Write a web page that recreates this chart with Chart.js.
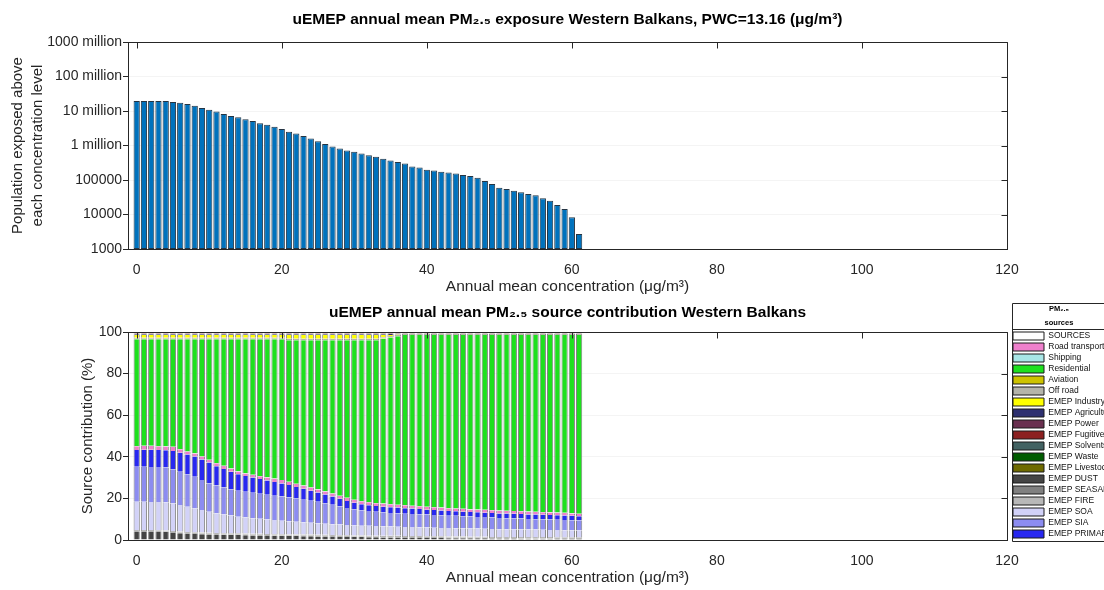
<!DOCTYPE html>
<html>
<head>
<meta charset="utf-8">
<script src="https://cdn.jsdelivr.net/npm/chart.js@4.4.1/dist/chart.umd.min.js"></script>
<style>
  html, body { margin: 0; padding: 0; background: #fff; overflow: hidden; }
  #wrap { position: relative; width: 1104px; height: 590px; overflow: hidden; }
  #topBox { position: absolute; left: 0; top: 0; width: 1104px; height: 296px; }
  #bottomBox { position: absolute; left: 0; top: 296px; width: 1104px; height: 294px; }
</style>
</head>
<body>
<div id="wrap">
  <div id="topBox"><canvas id="exposure"></canvas></div>
  <div id="bottomBox"><canvas id="contribution"></canvas></div>
</div>
<script>
// concentration bins (ug/m3), one bar per bin
const concentration = [
  0, 1, 2, 3, 4, 5, 6, 7, 8, 9,
  10, 11, 12, 13, 14, 15, 16, 17, 18, 19,
  20, 21, 22, 23, 24, 25, 26, 27, 28, 29,
  30, 31, 32, 33, 34, 35, 36, 37, 38, 39,
  40, 41, 42, 43, 44, 45, 46, 47, 48, 49,
  50, 51, 52, 53, 54, 55, 56, 57, 58, 59,
  60, 61
];

// population exposed above each concentration level
const populationAbove = [
  19500000, 19500000, 19500000, 19500000, 19400000, 18200000, 17400000, 15900000, 14100000, 12300000,
  10900000, 9600000, 8200000, 7200000, 6600000, 5800000, 5100000, 4400000, 4000000, 3500000,
  3000000, 2500000, 2240000, 1900000, 1600000, 1320000, 1100000, 930000, 815000, 720000,
  660000, 590000, 525000, 475000, 415000, 365000, 330000, 300000, 245000, 230000,
  198000, 187000, 174000, 166000, 155000, 139000, 131000, 117000, 94000, 76000,
  60000, 55000, 49000, 44000, 39000, 36000, 29500, 25000, 19000, 14400,
  8300, 2700
];

const xTicks = [0, 20, 40, 60, 80, 100, 120];
const popTicks = [1000, 10000, 100000, 1000000, 10000000, 100000000, 1000000000];
const popTickLabels = ['1000', '10000', '100000', '1 million', '10 million', '100 million', '1000 million'];
const shareTicks = [0, 20, 40, 60, 80, 100];

// source contributions (%) per bin
const emepDust = [
  4.0, 4.0, 4.0, 3.9, 3.8, 3.5, 3.3, 3.1, 2.9, 2.8,
  2.7, 2.6, 2.5, 2.4, 2.4, 2.3, 2.2, 2.2, 2.1, 2.0,
  2.0, 1.9, 1.9, 1.8, 1.8, 1.7, 1.7, 1.6, 1.5, 1.5,
  1.4, 1.4, 1.3, 1.3, 1.2, 1.2, 1.2, 1.1, 1.1, 1.1,
  1.0, 1.0, 1.0, 0.9, 0.9, 0.9, 0.8, 0.8, 0.8, 0.7,
  0.7, 0.7, 0.7, 0.6, 0.6, 0.6, 0.6, 0.6, 0.5, 0.5,
  0.5, 0.5
];
const emepSeasalt = [
  0.3, 0.3, 0.3, 0.3, 0.3, 0.3, 0.3, 0.3, 0.3, 0.3,
  0.3, 0.3, 0.3, 0.3, 0.3, 0.3, 0.3, 0.3, 0.3, 0.3,
  0.3, 0.3, 0.3, 0.3, 0.3, 0.3, 0.3, 0.3, 0.3, 0.3,
  0.3, 0.3, 0.3, 0.3, 0.3, 0.3, 0.3, 0.3, 0.3, 0.3,
  0.3, 0.3, 0.3, 0.3, 0.3, 0.3, 0.3, 0.3, 0.3, 0.3,
  0.3, 0.3, 0.3, 0.3, 0.3, 0.3, 0.3, 0.3, 0.3, 0.3,
  0.3, 0.3
];
const emepFire = [
  0.5, 0.5, 0.5, 0.5, 0.5, 0.5, 0.5, 0.5, 0.5, 0.5,
  0.5, 0.5, 0.5, 0.5, 0.5, 0.5, 0.5, 0.5, 0.5, 0.5,
  0.5, 0.5, 0.5, 0.5, 0.5, 0.5, 0.5, 0.5, 0.5, 0.5,
  0.5, 0.5, 0.5, 0.5, 0.5, 0.5, 0.5, 0.5, 0.5, 0.5,
  0.5, 0.5, 0.5, 0.5, 0.5, 0.5, 0.5, 0.5, 0.5, 0.5,
  0.5, 0.5, 0.5, 0.5, 0.5, 0.5, 0.5, 0.5, 0.5, 0.5,
  0.5, 0.5
];
const emepSoa = [
  13.6, 13.6, 13.5, 13.6, 13.5, 13.2, 12.7, 12.1, 11.5, 10.8,
  10.1, 9.5, 9.0, 8.6, 8.0, 7.8, 7.5, 7.2, 7.0, 6.8,
  6.5, 6.3, 6.1, 5.9, 5.7, 5.5, 5.3, 5.2, 5.1, 4.9,
  4.8, 4.7, 4.7, 4.6, 4.6, 4.5, 4.4, 4.4, 4.3, 4.2,
  4.2, 4.1, 4.0, 4.1, 4.0, 3.9, 3.9, 3.9, 3.8, 3.8,
  3.7, 3.7, 3.6, 3.7, 3.6, 3.6, 3.5, 3.4, 3.5, 3.4,
  3.4, 3.3
];
const emepSia = [
  16.8, 16.8, 16.8, 16.8, 16.8, 16.5, 16.0, 15.6, 15.2, 14.4,
  13.6, 13.3, 12.9, 12.6, 12.5, 12.3, 12.2, 12.0, 11.9, 11.7,
  11.6, 11.4, 11.1, 10.9, 10.6, 10.4, 9.9, 9.4, 8.8, 8.2,
  7.8, 7.4, 7.1, 6.9, 6.7, 6.5, 6.4, 6.3, 6.3, 6.2,
  6.2, 6.1, 6.1, 5.9, 5.9, 5.8, 5.8, 5.6, 5.6, 5.5,
  5.4, 5.3, 5.3, 5.2, 5.1, 5.0, 5.0, 5.0, 4.9, 4.9,
  4.8, 4.8
];
const emepPrimary = [
  8.1, 8.2, 8.3, 8.2, 8.3, 8.8, 9.2, 9.5, 9.7, 9.9,
  10.0, 9.3, 8.9, 8.4, 7.9, 7.6, 7.3, 7.1, 6.8, 6.6,
  6.3, 6.0, 5.6, 5.2, 4.8, 4.4, 4.2, 3.9, 3.6, 3.4,
  3.1, 2.9, 2.8, 2.7, 2.7, 2.8, 2.8, 2.7, 2.6, 2.6,
  2.4, 2.4, 2.3, 2.3, 2.2, 2.2, 2.2, 2.2, 2.1, 2.2,
  2.2, 2.2, 2.2, 2.2, 2.2, 2.2, 2.2, 2.2, 2.2, 2.2,
  2.1, 2.0
];
const sourcesTotal = [
  0, 0, 0, 0, 0, 0, 0, 0, 0, 0,
  0, 0, 0, 0, 0, 0, 0, 0, 0, 0,
  0, 0, 0, 0, 0, 0, 0, 0, 0, 0,
  0, 0, 0, 0, 0, 0, 0, 0, 0, 0,
  0, 0, 0, 0, 0, 0, 0, 0, 0, 0,
  0, 0, 0, 0, 0, 0, 0, 0, 0, 0,
  0, 0
];
const roadTransport = [
  1.8, 1.8, 1.8, 1.8, 1.8, 1.9, 1.6, 1.4, 1.5, 1.4,
  1.3, 1.4, 1.5, 1.5, 1.3, 1.2, 1.3, 1.4, 1.5, 1.6,
  1.6, 1.5, 1.5, 1.5, 1.5, 1.5, 1.4, 1.4, 1.4, 1.4,
  1.4, 1.4, 1.4, 1.4, 1.4, 1.4, 1.3, 1.4, 1.3, 1.3,
  1.3, 1.3, 1.3, 1.3, 1.3, 1.3, 1.2, 1.3, 1.3, 1.3,
  1.3, 1.3, 1.3, 1.3, 1.3, 1.3, 1.2, 1.2, 1.2, 1.2,
  1.2, 1.1
];
const shipping = [
  0.1, 0.1, 0.1, 0.1, 0.1, 0.1, 0.1, 0.1, 0.1, 0.1,
  0.1, 0.1, 0.1, 0.1, 0.1, 0.1, 0.1, 0.1, 0.1, 0.1,
  0.1, 0.1, 0.1, 0.1, 0.1, 0.1, 0.1, 0.1, 0.1, 0.1,
  0.1, 0.1, 0.1, 0.1, 0.1, 0.1, 0.1, 0.1, 0.1, 0.1,
  0.1, 0.1, 0.1, 0.1, 0.1, 0.1, 0.1, 0.1, 0.1, 0.1,
  0.1, 0.1, 0.1, 0.1, 0.1, 0.1, 0.1, 0.1, 0.1, 0.1,
  0.1, 0.1
];
const residential = [
  51.3, 51.2, 51.2, 51.3, 51.4, 51.7, 52.8, 53.9, 54.8, 56.3,
  57.9, 59.5, 60.8, 62.1, 63.5, 64.4, 65.1, 65.7, 66.3, 66.9,
  67.6, 68.0, 68.9, 69.8, 70.7, 71.6, 72.6, 73.6, 74.7, 75.7,
  76.6, 77.3, 77.8, 78.2, 79.3, 80.1, 80.9, 81.7, 82.0, 82.2,
  82.5, 82.7, 82.9, 83.1, 83.3, 83.5, 83.7, 83.8, 84.0, 84.1,
  84.3, 84.4, 84.5, 84.6, 84.8, 84.9, 85.1, 85.2, 85.3, 85.4,
  85.6, 85.9
];
const aviation = [
  0.2, 0.2, 0.2, 0.2, 0.2, 0.2, 0.2, 0.2, 0.2, 0.2,
  0.2, 0.2, 0.2, 0.2, 0.2, 0.2, 0.2, 0.2, 0.2, 0.2,
  0.2, 0.2, 0.2, 0.2, 0.2, 0.2, 0.2, 0.2, 0.2, 0.2,
  0.2, 0.2, 0.2, 0.2, 0.2, 0.2, 0.2, 0.1, 0.1, 0.1,
  0.1, 0.1, 0.1, 0.1, 0.1, 0.1, 0.1, 0.1, 0.1, 0.1,
  0.1, 0.1, 0.1, 0.1, 0.1, 0.1, 0.1, 0.1, 0.1, 0.1,
  0.1, 0.1
];
const offRoad = [
  0.5, 0.5, 0.5, 0.5, 0.5, 0.5, 0.5, 0.5, 0.5, 0.5,
  0.5, 0.5, 0.5, 0.5, 0.5, 0.5, 0.5, 0.5, 0.5, 0.5,
  0.5, 0.5, 0.5, 0.5, 0.5, 0.5, 0.5, 0.5, 0.5, 0.5,
  0.5, 0.5, 0.5, 0.5, 0.5, 0.5, 0.5, 0.4, 0.4, 0.4,
  0.4, 0.4, 0.4, 0.4, 0.4, 0.4, 0.4, 0.4, 0.4, 0.4,
  0.4, 0.4, 0.4, 0.4, 0.4, 0.4, 0.4, 0.4, 0.4, 0.4,
  0.4, 0.4
];
const emepIndustry = [
  1.3, 1.3, 1.3, 1.3, 1.3, 1.3, 1.3, 1.3, 1.3, 1.3,
  1.3, 1.3, 1.3, 1.3, 1.3, 1.3, 1.3, 1.3, 1.3, 1.3,
  1.3, 1.8, 1.8, 1.8, 1.8, 1.8, 1.8, 1.8, 1.8, 1.8,
  1.8, 1.8, 1.8, 1.8, 1.0, 0.5, 0.2, 0.1, 0.1, 0.1,
  0.1, 0.1, 0.1, 0.1, 0.1, 0.1, 0.1, 0.1, 0.1, 0.1,
  0.1, 0.1, 0.1, 0.1, 0.1, 0.1, 0.1, 0.1, 0.1, 0.1,
  0.1, 0.1
];
const emepAgriculture = [
  0.4, 0.4, 0.4, 0.4, 0.4, 0.4, 0.4, 0.4, 0.4, 0.4,
  0.4, 0.4, 0.4, 0.4, 0.4, 0.4, 0.4, 0.4, 0.4, 0.4,
  0.4, 0.4, 0.4, 0.4, 0.4, 0.4, 0.4, 0.4, 0.4, 0.4,
  0.4, 0.4, 0.4, 0.4, 0.4, 0.4, 0.3, 0.2, 0.2, 0.2,
  0.2, 0.2, 0.2, 0.2, 0.2, 0.2, 0.2, 0.2, 0.2, 0.2,
  0.2, 0.2, 0.2, 0.2, 0.2, 0.2, 0.2, 0.2, 0.2, 0.2,
  0.2, 0.2
];
const emepPower = [
  0.3, 0.3, 0.3, 0.3, 0.3, 0.3, 0.3, 0.3, 0.3, 0.3,
  0.3, 0.3, 0.3, 0.3, 0.3, 0.3, 0.3, 0.3, 0.3, 0.3,
  0.3, 0.3, 0.3, 0.3, 0.3, 0.3, 0.3, 0.3, 0.3, 0.3,
  0.3, 0.3, 0.3, 0.3, 0.3, 0.3, 0.3, 0.2, 0.2, 0.2,
  0.2, 0.2, 0.2, 0.2, 0.2, 0.2, 0.2, 0.2, 0.2, 0.2,
  0.2, 0.2, 0.2, 0.2, 0.2, 0.2, 0.2, 0.2, 0.2, 0.2,
  0.2, 0.2
];
const emepFugitive = [
  0.2, 0.2, 0.2, 0.2, 0.2, 0.2, 0.2, 0.2, 0.2, 0.2,
  0.2, 0.2, 0.2, 0.2, 0.2, 0.2, 0.2, 0.2, 0.2, 0.2,
  0.2, 0.2, 0.2, 0.2, 0.2, 0.2, 0.2, 0.2, 0.2, 0.2,
  0.2, 0.2, 0.2, 0.2, 0.2, 0.2, 0.2, 0.1, 0.1, 0.1,
  0.1, 0.1, 0.1, 0.1, 0.1, 0.1, 0.1, 0.1, 0.1, 0.1,
  0.1, 0.1, 0.1, 0.1, 0.1, 0.1, 0.1, 0.1, 0.1, 0.1,
  0.1, 0.1
];
const emepSolvents = [
  0.2, 0.2, 0.2, 0.2, 0.2, 0.2, 0.2, 0.2, 0.2, 0.2,
  0.2, 0.2, 0.2, 0.2, 0.2, 0.2, 0.2, 0.2, 0.2, 0.2,
  0.2, 0.2, 0.2, 0.2, 0.2, 0.2, 0.2, 0.2, 0.2, 0.2,
  0.2, 0.2, 0.2, 0.2, 0.2, 0.2, 0.1, 0.1, 0.1, 0.1,
  0.1, 0.1, 0.1, 0.1, 0.1, 0.1, 0.1, 0.1, 0.1, 0.1,
  0.1, 0.1, 0.1, 0.1, 0.1, 0.1, 0.1, 0.1, 0.1, 0.1,
  0.1, 0.1
];
const emepWaste = [
  0.1, 0.1, 0.1, 0.1, 0.1, 0.1, 0.1, 0.1, 0.1, 0.1,
  0.1, 0.1, 0.1, 0.1, 0.1, 0.1, 0.1, 0.1, 0.1, 0.1,
  0.1, 0.1, 0.1, 0.1, 0.1, 0.1, 0.1, 0.1, 0.1, 0.1,
  0.1, 0.1, 0.1, 0.1, 0.1, 0.1, 0.1, 0.1, 0.1, 0.1,
  0.1, 0.1, 0.1, 0.1, 0.1, 0.1, 0.1, 0.1, 0.1, 0.1,
  0.1, 0.1, 0.1, 0.1, 0.1, 0.1, 0.1, 0.1, 0.1, 0.1,
  0.1, 0.1
];
const emepLivestock = [
  0.3, 0.3, 0.3, 0.3, 0.3, 0.3, 0.3, 0.3, 0.3, 0.3,
  0.3, 0.3, 0.3, 0.3, 0.3, 0.3, 0.3, 0.3, 0.3, 0.3,
  0.3, 0.3, 0.3, 0.3, 0.3, 0.3, 0.3, 0.3, 0.3, 0.3,
  0.3, 0.3, 0.3, 0.3, 0.3, 0.2, 0.2, 0.2, 0.2, 0.2,
  0.2, 0.2, 0.2, 0.2, 0.2, 0.2, 0.2, 0.2, 0.2, 0.2,
  0.2, 0.2, 0.2, 0.2, 0.2, 0.2, 0.2, 0.2, 0.2, 0.2,
  0.2, 0.2
];

// legend order (top to bottom) and stacking order (bottom to top)
const legendOrder = ['SOURCES', 'Road transport', 'Shipping', 'Residential', 'Aviation', 'Off road',
  'EMEP Industry', 'EMEP Agriculture', 'EMEP Power', 'EMEP Fugitive', 'EMEP Solvents', 'EMEP Waste',
  'EMEP Livestock', 'EMEP DUST', 'EMEP SEASALT', 'EMEP FIRE', 'EMEP SOA', 'EMEP SIA', 'EMEP PRIMARY'];

const stackSeries = [
  ['EMEP DUST', emepDust], ['EMEP SEASALT', emepSeasalt], ['EMEP FIRE', emepFire],
  ['EMEP SOA', emepSoa], ['EMEP SIA', emepSia], ['EMEP PRIMARY', emepPrimary],
  ['SOURCES', sourcesTotal], ['Road transport', roadTransport], ['Shipping', shipping],
  ['Residential', residential], ['Aviation', aviation], ['Off road', offRoad],
  ['EMEP Industry', emepIndustry], ['EMEP Agriculture', emepAgriculture], ['EMEP Power', emepPower],
  ['EMEP Fugitive', emepFugitive], ['EMEP Solvents', emepSolvents], ['EMEP Waste', emepWaste],
  ['EMEP Livestock', emepLivestock]
];

const sourceColors = {
  'SOURCES': '#ffffff',
  'Road transport': '#ee80cc',
  'Shipping': '#a8e6e6',
  'Residential': '#1ee01e',
  'Aviation': '#cdc300',
  'Off road': '#b4b4aa',
  'EMEP Industry': '#ffff00',
  'EMEP Agriculture': '#2e3070',
  'EMEP Power': '#6a3050',
  'EMEP Fugitive': '#8c2020',
  'EMEP Solvents': '#426262',
  'EMEP Waste': '#005c00',
  'EMEP Livestock': '#6e6a00',
  'EMEP DUST': '#444444',
  'EMEP SEASALT': '#808080',
  'EMEP FIRE': '#b8b8b8',
  'EMEP SOA': '#d2d2f8',
  'EMEP SIA': '#8c8cf0',
  'EMEP PRIMARY': '#2828f0'
};

Chart.defaults.font.family = "'Liberation Sans', Arial, Helvetica, sans-serif";
Chart.defaults.color = '#262626';

const axisColor = '#262626';

// box around the axes with inward ticks on top and right, like the original
const framePlugin = {
  id: 'frame',
  afterDatasetsDraw(chart) {
    const { ctx, chartArea: a, scales } = chart;
    const l = Math.round(a.left) + 0.5, r = Math.round(a.right) + 0.5;
    const t = Math.round(a.top) + 0.5, b = Math.round(a.bottom) + 0.5;
    ctx.save();
    ctx.strokeStyle = axisColor;
    ctx.lineWidth = 1;
    ctx.beginPath();
    ctx.rect(l, t, r - l, b - t);
    scales.x.ticks.forEach(tk => {
      const px = Math.round(scales.x.getPixelForValue(tk.value)) + 0.5;
      ctx.moveTo(px, t); ctx.lineTo(px, t + 6);
    });
    scales.y.ticks.forEach(tk => {
      const py = Math.round(scales.y.getPixelForValue(tk.value)) + 0.5;
      ctx.moveTo(r, py); ctx.lineTo(r - 6, py);
    });
    ctx.stroke();
    ctx.restore();
  }
};

// bordered legend box with a rule under its title
const legendBoxPlugin = {
  id: 'legendBox',
  afterLayout(chart) {
    chart.legend.left += 3.5;
    chart.legend.right += 3.5;
  },
  afterDraw(chart) {
    const lg = chart.legend;
    const { ctx } = chart;
    const x = Math.round(lg.left) + 1.5;
    const y = Math.round(lg.top) + 0.5;
    const h = 26.25 + 2.5 + legendOrder.length * 11;
    ctx.save();
    ctx.strokeStyle = axisColor;
    ctx.lineWidth = 1;
    ctx.beginPath();
    ctx.rect(x, y, 200, Math.round(h));
    ctx.moveTo(x, y + 26);
    ctx.lineTo(x + 200, y + 26);
    ctx.stroke();
    ctx.restore();
  }
};

const xScale = (tickPad, titlePad, height) => ({
  type: 'linear',
  min: -1.2,
  max: 120,
  offset: false,
  stacked: true,
  afterBuildTicks: s => { s.ticks = xTicks.map(v => ({ value: v })); },
  afterFit: s => { s.height = height; s.paddingLeft = 0; s.paddingRight = 0; },
  grid: { display: false, offset: false },
  border: { color: axisColor },
  ticks: { font: { size: 14 }, color: axisColor, padding: tickPad, maxRotation: 0, autoSkip: false },
  title: {
    display: true,
    text: 'Annual mean concentration (μg/m³)',
    font: { size: 15.5 },
    color: axisColor,
    padding: { top: 2, bottom: titlePad }
  }
});

new Chart(document.getElementById('exposure'), {
  type: 'bar',
  data: {
    labels: concentration,
    datasets: [{
      label: 'Population',
      data: populationAbove,
      backgroundColor: '#0072bd',
      borderColor: '#253544',
      borderWidth: 1,
      borderSkipped: false,
      barPercentage: 0.86,
      categoryPercentage: 1
    }]
  },
  options: {
    responsive: true,
    maintainAspectRatio: false,
    animation: false,
    layout: { padding: { left: 0, right: 97, top: 0, bottom: 0 } },
    plugins: {
      legend: { display: false },
      tooltip: { enabled: false },
      title: {
        display: true,
        fullSize: false,
        text: 'uEMEP annual mean PM₂.₅ exposure Western Balkans, PWC=13.16 (μg/m³)',
        color: '#000',
        font: { size: 15.5, weight: 'bold' },
        padding: { top: 10.7, bottom: 12.7 }
      }
    },
    scales: {
      x: xScale(4.5, 0, 47),
      y: {
        type: 'logarithmic',
        min: 1000,
        max: 1000000000,
        afterBuildTicks: s => { s.ticks = popTicks.map(v => ({ value: v })); },
        afterFit: s => { s.width = 128; },
        grid: { color: 'rgba(0,0,0,0.045)', tickColor: axisColor, tickLength: 5 },
        border: { color: axisColor },
        ticks: {
          font: { size: 14 },
          color: axisColor,
          padding: 1,
          autoSkip: false,
          callback: (v, i) => popTickLabels[i]
        },
        title: {
          display: true,
          text: ['Population exposed above', 'each concentration level'],
          font: { size: 15, lineHeight: '20px' },
          color: axisColor,
          padding: { top: 8, bottom: 0 }
        }
      }
    }
  },
  plugins: [framePlugin]
});

new Chart(document.getElementById('contribution'), {
  type: 'bar',
  data: {
    labels: concentration,
    datasets: stackSeries.map(([name, values]) => ({
      label: name,
      data: values,
      backgroundColor: sourceColors[name],
      borderColor: '#858585',
      borderWidth: { left: 1, right: 1, top: 0, bottom: 0 },
      barPercentage: 0.86,
      categoryPercentage: 1
    }))
  },
  options: {
    responsive: true,
    maintainAspectRatio: false,
    animation: false,
    layout: { padding: { left: 0, right: 0, top: 7, bottom: 0 } },
    plugins: {
      tooltip: { enabled: false },
      title: {
        display: true,
        fullSize: false,
        text: 'uEMEP annual mean PM₂.₅ source contribution Western Balkans',
        color: '#000',
        font: { size: 15.5, weight: 'bold' },
        padding: { top: 0, bottom: 10.4 }
      },
      legend: {
        position: 'right',
        align: 'start',
        maxWidth: 97,
        title: {
          display: true,
          text: ['PM₂.₅', 'sources'],
          color: '#000',
          font: { size: 7.5, weight: 'bold', lineHeight: '14px' },
          padding: { top: 2.25, bottom: 10 }
        },
        labels: {
          boxWidth: 31,
          boxHeight: 8,
          padding: 2.5,
          color: '#111',
          font: { size: 8.5 },
          sort: (a, b) => legendOrder.indexOf(a.text) - legendOrder.indexOf(b.text),
          generateLabels: chart => {
            const items = Chart.defaults.plugins.legend.labels.generateLabels(chart);
            items.forEach(it => { it.strokeStyle = '#1a1a1a'; it.lineWidth = 1; });
            return items;
          }
        },
        onClick: () => {}
      }
    },
    scales: {
      x: xScale(4.6, 2.7, 50),
      y: {
        stacked: true,
        min: 0,
        max: 100,
        afterBuildTicks: s => { s.ticks = shareTicks.map(v => ({ value: v })); },
        afterFit: s => { s.width = 128; },
        grid: { color: 'rgba(0,0,0,0.045)', tickColor: axisColor, tickLength: 5 },
        border: { color: axisColor },
        ticks: { font: { size: 14 }, color: axisColor, padding: 1, autoSkip: false },
        title: {
          display: true,
          text: 'Source contribution (%)',
          font: { size: 15 },
          color: axisColor,
          padding: { top: 79, bottom: 0 }
        }
      }
    }
  },
  plugins: [framePlugin, legendBoxPlugin]
});
</script>
</body>
</html>
